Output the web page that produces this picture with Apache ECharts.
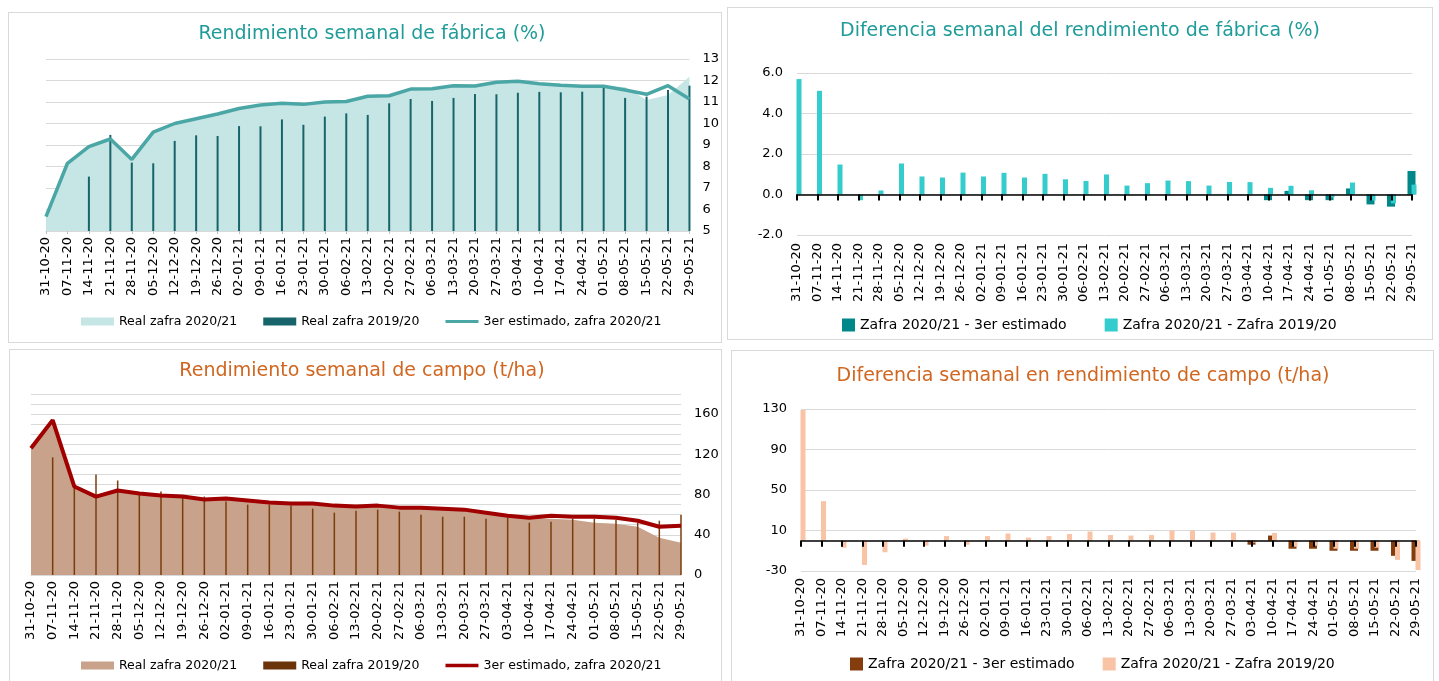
<!DOCTYPE html>
<html><head><meta charset="utf-8">
<script src="https://cdn.jsdelivr.net/npm/echarts@6/dist/echarts.min.js"></script>
<style>
body{margin:0;background:#fff;width:1439px;height:681px;overflow:hidden;position:relative;}
.frame{position:absolute;border:1px solid #d9d9d9;box-sizing:border-box;}
.chart{position:absolute;}
</style></head><body>
<div class="frame" style="left:8px;top:12px;width:714px;height:331px"></div>
<div class="frame" style="left:727px;top:7px;width:706px;height:333px"></div>
<div class="frame" style="left:9px;top:349px;width:713px;height:340px"></div>
<div class="frame" style="left:731px;top:350px;width:703px;height:340px"></div>
<div id="c1" class="chart" style="left:8px;top:12px;width:714px;height:331px"></div>
<div id="c2" class="chart" style="left:727px;top:7px;width:706px;height:333px"></div>
<div id="c3" class="chart" style="left:8px;top:349px;width:714px;height:332px"></div>
<div id="c4" class="chart" style="left:731px;top:350px;width:703px;height:331px"></div>
<script>
const categories = ['31-10-20','07-11-20','14-11-20','21-11-20','28-11-20','05-12-20','12-12-20','19-12-20','26-12-20','02-01-21','09-01-21','16-01-21','23-01-21','30-01-21','06-02-21','13-02-21','20-02-21','27-02-21','06-03-21','13-03-21','20-03-21','27-03-21','03-04-21','10-04-21','17-04-21','24-04-21','01-05-21','08-05-21','15-05-21','22-05-21','29-05-21'];

// Rendimiento semanal de fábrica (%)
const fabricaReal2021 = [5.67,8.15,8.92,9.28,8.33,9.6,10.0,10.22,10.44,10.7,10.86,10.94,10.89,11.0,11.02,11.27,11.29,11.6,11.62,11.76,11.74,11.92,11.96,11.85,11.78,11.73,11.73,11.7,11.09,11.33,12.18];
const fabricaReal1920 = [null,null,7.53,9.47,8.18,8.15,9.19,9.45,9.42,9.88,9.87,10.19,9.94,10.32,10.47,10.4,10.94,11.14,11.05,11.19,11.37,11.36,11.43,11.47,11.45,11.48,11.67,11.19,11.25,11.56,11.76];
const fabricaEst2021 = [5.67,8.15,8.92,9.28,8.33,9.6,10.0,10.22,10.44,10.7,10.86,10.94,10.89,11.0,11.02,11.27,11.29,11.6,11.62,11.76,11.74,11.92,11.96,11.85,11.78,11.73,11.73,11.56,11.36,11.76,11.14];

// Diferencia semanal del rendimiento de fábrica (%)
const fabricaDifEst = [null,null,null,null,null,null,null,null,null,null,null,null,null,null,null,null,null,null,null,null,null,null,null,-0.28,0.18,-0.28,-0.28,0.3,-0.49,-0.6,1.16];
const fabricaDifPrev = [5.7,5.12,1.48,-0.28,0.2,1.53,0.89,0.84,1.08,0.89,1.07,0.84,1.02,0.75,0.67,0.99,0.44,0.56,0.69,0.66,0.44,0.62,0.61,0.33,0.43,0.21,-0.15,0.59,-0.3,-0.44,0.49];

// Rendimiento semanal de campo (t/ha)
const campoReal2021 = [126,154,88,78,84,81,79,78,75,76,74,72,71,71,69,68,69,67,67,66,65,62,59,57,56,55,52,51,48,37,32];
const campoReal1920 = [null,117,87,100,94,80,83,77,78,73,70,70,69,66,62,64,65,63,60,58,58,56,57,52,53,56,56,55,52,54,60];
const campoEst2021 = [126,154,88,78,84,81,79,78,75,76,74,72,71,71,69,68,69,67,67,66,65,62,59,57,59,58,58,57,54,48,49];

// Diferencia semanal en rendimiento de campo (t/ha)
const campoDifEst = [null,null,null,null,null,null,null,null,null,null,null,null,null,null,null,null,null,null,null,null,null,null,-4,5,-8,-8,-10,-10,-10,-15,-20];
const campoDifPrev = [129,39,-7,-24,-11.5,2,-5,4.5,-4,4.5,7,3,4.5,6.5,9,5.5,5,5.5,10,10,8,8,-2,7.6,-6,-5,-8,-8,-7,-19,-29];

const FONT = 'DejaVu Sans';
const TEAL = '#1f9c99';
const ORANGE = '#d0661f';
const LINE_ICON = 'path://M0 0L0.01 0L0.01 0.01Z M0 2.6L33 2.6L33 5.4L0 5.4Z M0 7.99L0.01 7.99L0.01 8Z';
const LINE_ICON3 = 'path://M0 0L0.01 0L0.01 0.01Z M0 2.3L33 2.3L33 5.7L0 5.7Z M0 7.99L0.01 7.99L0.01 8Z';

function title(text, cx, top, color){
  return {text, left:cx, top, textAlign:'center', padding:0,
    textStyle:{color, fontSize:19, fontWeight:'normal', fontFamily:FONT}};
}
function xLabels(margin){
  return {rotate:90, interval:0, fontSize:13, color:'#000', margin, fontFamily:FONT};
}
const legendTextS = {fontSize:12.5, color:'#000', fontFamily:FONT};
const legendTextL = {fontSize:14, color:'#000', fontFamily:FONT};
function zeroAxis(){
  return {type:'category', data:categories, boundaryGap:false, z:5,
    axisLine:{onZero:true, lineStyle:{color:'#000', width:1.5}},
    axisTick:{show:true, interval:0, length:6, lineStyle:{color:'#000', width:2}},
    axisLabel:{show:true, interval:0, hideOverlap:false, color:'rgba(0,0,0,0)', fontSize:1, formatter:()=>''}};
}

// Chart 1
echarts.init(document.getElementById('c1')).setOption({
  animation:false,
  title: title('Rendimiento semanal de fábrica (%)', 364, 13, TEAL),
  legend:{left:73, top:303, padding:0, itemWidth:33, itemHeight:8, itemGap:26, textStyle:legendTextS,
    itemStyle:{borderWidth:0},
    data:[{name:'Real zafra 2020/21', icon:'rect', itemStyle:{color:'#c6e6e5'}},
          {name:'Real zafra 2019/20', icon:'rect', itemStyle:{color:'#17656a'}},
          {name:'3er estimado, zafra 2020/21', icon:LINE_ICON, itemStyle:{color:'#4ba6a6'}}]},
  grid:{left:38, top:47, width:644, height:172},
  xAxis:{type:'category', data:categories, boundaryGap:false,
    axisLine:{lineStyle:{color:'#d9d9d9'}}, axisTick:{interval:0, length:3, lineStyle:{color:'#bfbfbf'}},
    axisLabel:xLabels(6)},
  yAxis:{type:'value', position:'right', min:5, max:13, interval:1,
    axisLabel:{color:'#000', fontSize:13, margin:13, fontFamily:FONT},
    splitLine:{lineStyle:{color:'#d9d9d9'}}, axisLine:{show:false}, axisTick:{show:false}},
  series:[
    {name:'Real zafra 2020/21', type:'line', z:1, data:fabricaReal2021, symbol:'none', color:'#c6e6e5',
      lineStyle:{width:0}, areaStyle:{color:'#c6e6e5', opacity:1, origin:'start'}},
    {name:'Real zafra 2019/20', type:'bar', z:3, data:fabricaReal1920, barWidth:2, itemStyle:{color:'#17656a'}},
    {name:'3er estimado, zafra 2020/21', type:'line', z:4, data:fabricaEst2021, symbol:'none', color:'#4ba6a6',
      lineStyle:{width:3.5, color:'#4ba6a6'}}
  ]
});

// Chart 2
echarts.init(document.getElementById('c2')).setOption({
  animation:false,
  title: title('Diferencia semanal del rendimiento de fábrica (%)', 353, 15, TEAL),
  legend:{left:115, top:311, padding:0, itemWidth:13, itemHeight:13, itemGap:38, textStyle:legendTextL,
    itemStyle:{borderWidth:0},
    data:[{name:'Zafra 2020/21 - 3er estimado', icon:'rect', itemStyle:{color:'#00878a'}},
          {name:'Zafra 2020/21 - Zafra 2019/20', icon:'rect', itemStyle:{color:'#34cccc'}}]},
  grid:{left:70, top:66, width:615, height:162},
  xAxis:[
    zeroAxis(),
    {type:'category', data:categories, boundaryGap:false, position:'bottom',
      axisLine:{show:false, onZero:false}, axisTick:{show:false}, axisLabel:xLabels(8)}
  ],
  yAxis:{type:'value', min:-2, max:6, interval:2,
    axisLabel:{formatter:v=>v.toFixed(1), color:'#000', fontSize:13, margin:14, fontFamily:FONT},
    splitLine:{lineStyle:{color:'#d9d9d9'}}, axisLine:{show:false}, axisTick:{show:false}},
  series:[
    {name:'Zafra 2020/21 - 3er estimado', type:'bar', data:fabricaDifEst, barWidth:8, barGap:'-50%', itemStyle:{color:'#00878a'}},
    {name:'Zafra 2020/21 - Zafra 2019/20', type:'bar', data:fabricaDifPrev, barWidth:5, itemStyle:{color:'#34cccc'}}
  ]
});

// Chart 3
echarts.init(document.getElementById('c3')).setOption({
  animation:false,
  title: title('Rendimiento semanal de campo (t/ha)', 354, 13, ORANGE),
  legend:{left:73, top:310, padding:0, itemWidth:33, itemHeight:8, itemGap:26, textStyle:legendTextS,
    itemStyle:{borderWidth:0},
    data:[{name:'Real zafra 2020/21', icon:'rect', itemStyle:{color:'#c8a28a'}},
          {name:'Real zafra 2019/20', icon:'rect', itemStyle:{color:'#6b3309'}},
          {name:'3er estimado, zafra 2020/21', icon:LINE_ICON3, itemStyle:{color:'#a00000'}}]},
  grid:{left:23, top:45, width:650, height:181},
  xAxis:{type:'category', data:categories, boundaryGap:false,
    axisLine:{lineStyle:{color:'#d9d9d9'}}, axisTick:{show:false},
    axisLabel:xLabels(6)},
  yAxis:{type:'value', position:'right', min:0, max:180, interval:10,
    axisLabel:{color:'#000', fontSize:13, margin:13, fontFamily:FONT,
      formatter:v=>(v%40===0 && v<=160) ? String(v) : ''},
    splitLine:{lineStyle:{color:'#d9d9d9'}}, axisLine:{show:false}, axisTick:{show:false}},
  series:[
    {name:'Real zafra 2020/21', type:'line', z:1, data:campoReal2021, symbol:'none', color:'#c8a28a',
      lineStyle:{width:0}, areaStyle:{color:'#c8a28a', opacity:1, origin:'start'}},
    {name:'Real zafra 2019/20', type:'bar', z:3, data:campoReal1920, barWidth:1.5, itemStyle:{color:'#7a3d0e'}},
    {name:'3er estimado, zafra 2020/21', type:'line', z:4, data:campoEst2021, symbol:'none', color:'#a00000',
      lineStyle:{width:4, color:'#a00000'}}
  ]
});

// Chart 4
echarts.init(document.getElementById('c4')).setOption({
  animation:false,
  title: title('Diferencia semanal en rendimiento de campo (t/ha)', 352, 17, ORANGE),
  legend:{left:119, top:307, padding:0, itemWidth:13, itemHeight:13, itemGap:28, textStyle:legendTextL,
    itemStyle:{borderWidth:0},
    data:[{name:'Zafra 2020/21 - 3er estimado', icon:'rect', itemStyle:{color:'#843c0c'}},
          {name:'Zafra 2020/21 - Zafra 2019/20', icon:'rect', itemStyle:{color:'#f9c4a6'}}]},
  grid:{left:70, top:59, width:615, height:162},
  xAxis:[
    zeroAxis(),
    {type:'category', data:categories, boundaryGap:false, position:'bottom',
      axisLine:{show:false, onZero:false}, axisTick:{show:false}, axisLabel:xLabels(7)}
  ],
  yAxis:{type:'value', min:-30, max:130, interval:40,
    axisLabel:{color:'#000', fontSize:13, margin:14, fontFamily:FONT},
    splitLine:{lineStyle:{color:'#d9d9d9'}}, axisLine:{show:false}, axisTick:{show:false}},
  series:[
    {name:'Zafra 2020/21 - 3er estimado', type:'bar', data:campoDifEst, barWidth:8, barGap:'-50%', itemStyle:{color:'#843c0c'}},
    {name:'Zafra 2020/21 - Zafra 2019/20', type:'bar', data:campoDifPrev, barWidth:5, itemStyle:{color:'#f9c4a6'}}
  ]
});
</script>
</body></html>
